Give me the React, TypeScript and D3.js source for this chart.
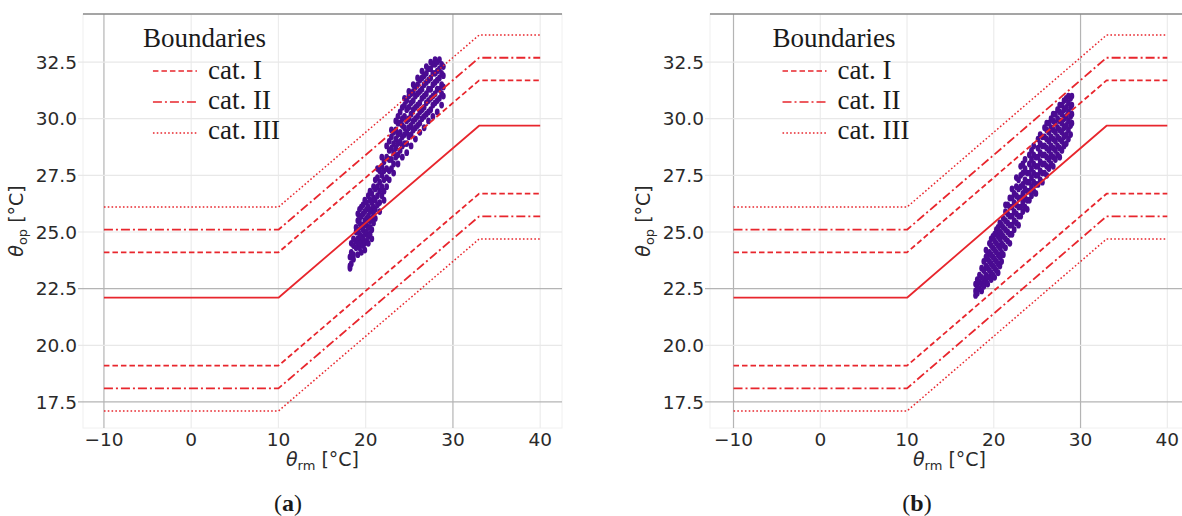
import React from "react";
import * as d3 from "d3";

// ---------- data ----------
const xTicks = [-10, 0, 10, 20, 30, 40];
const yTicks = [17.5, 20.0, 22.5, 25.0, 27.5, 30.0, 32.5];
const darkX = [-10, 30];
const darkY = [17.5, 22.5];

// boundary breakpoints (running mean temperature)
const rmBreaks = [-10, 10, 33, 40];
const comfortLine = [22.1, 22.1, 29.69, 29.69];
const catIUpper = [24.1, 24.1, 31.69, 31.69];
const catILower = [19.1, 19.1, 26.69, 26.69];
const catIIUpper = [25.1, 25.1, 32.69, 32.69];
const catIILower = [18.1, 18.1, 25.69, 25.69];
const catIIIUpper = [26.1, 26.1, 33.69, 33.69];
const catIIILower = [17.1, 17.1, 24.69, 24.69];

const legendLabels = ["cat. I", "cat. II", "cat. III"];

// measured operative temperatures per day: [running mean, readings]
const daysA: [number, number[]][] = [
  [18.2, [23.4, 23.5, 23.9]],
  [18.35, [23.6, 23.9, 24.1, 24.5]],
  [18.6, [23.8, 24.0, 24.4, 24.7]],
  [18.9, [24.3, 24.6, 25.0, 25.2]],
  [19.1, [24.0, 24.4, 24.7, 25.1, 25.5, 25.8]],
  [19.3, [24.3, 24.5, 24.9, 25.4, 25.6, 26.0]],
  [19.5, [24.1, 24.6, 24.8, 25.2, 25.7, 26.1]],
  [19.7, [24.4, 24.7, 25.1, 25.3, 25.8, 26.2]],
  [19.9, [24.2, 24.5, 24.9, 25.5, 25.9, 26.4]],
  [20.1, [24.6, 25.0, 25.3, 25.6, 26.0, 26.3]],
  [20.3, [24.5, 24.8, 25.2, 25.7, 26.1, 26.6]],
  [20.5, [24.9, 25.2, 25.5, 25.9, 26.4, 26.8]],
  [20.7, [24.7, 25.1, 25.6, 26.0, 26.3, 26.7]],
  [20.9, [25.4, 25.8, 26.1, 26.5, 27.0]],
  [21.1, [25.6, 26.0, 26.4, 26.9, 27.3]],
  [21.35, [26.2, 26.6, 27.0, 27.4, 27.8]],
  [21.6, [25.9, 26.3, 26.8, 27.2, 27.7]],
  [21.85, [26.6, 27.0, 27.5, 27.9, 28.3]],
  [22.1, [26.4, 26.8, 27.3, 27.7, 28.1]],
  [22.4, [27.0, 27.4, 27.8, 28.3, 28.8]],
  [22.7, [27.3, 27.7, 28.2, 28.6, 29.0]],
  [22.95, [27.8, 28.2, 28.7, 29.2, 29.5]],
  [23.2, [27.6, 28.0, 28.5, 28.9, 29.4]],
  [23.45, [28.3, 28.7, 29.1, 29.5, 29.9]],
  [23.7, [28.0, 28.4, 28.9, 29.3, 29.8, 30.1]],
  [23.95, [28.6, 29.0, 29.4, 29.8, 30.3]],
  [24.2, [28.3, 28.8, 29.2, 29.7, 30.0, 30.5]],
  [24.45, [28.9, 29.3, 29.6, 30.1, 30.6, 30.9]],
  [24.7, [28.5, 28.9, 29.4, 29.9, 30.4, 30.8]],
  [24.95, [29.2, 29.6, 30.0, 30.5, 31.0, 31.2]],
  [25.2, [28.8, 29.3, 29.7, 30.2, 30.7, 31.1]],
  [25.45, [29.5, 29.9, 30.4, 30.8, 31.2, 31.5]],
  [25.7, [29.1, 29.6, 30.0, 30.5, 31.0, 31.4]],
  [25.95, [29.7, 30.1, 30.6, 31.1, 31.5, 31.8]],
  [26.2, [29.4, 29.8, 30.3, 30.7, 31.2, 31.7]],
  [26.45, [30.0, 30.4, 30.9, 31.3, 31.8, 32.1]],
  [26.7, [29.6, 30.1, 30.5, 31.0, 31.5, 31.9]],
  [26.95, [30.2, 30.7, 31.1, 31.6, 32.0, 32.3]],
  [27.2, [29.9, 30.3, 30.8, 31.3, 31.7, 32.2]],
  [27.45, [30.4, 30.9, 31.3, 31.8, 32.2, 32.5]],
  [27.7, [30.1, 30.6, 31.0, 31.5, 32.0, 32.4]],
  [27.95, [30.7, 31.1, 31.6, 32.0, 32.4, 32.6]],
  [28.2, [30.3, 30.8, 31.3, 31.7, 32.1, 32.5]],
  [28.45, [30.9, 31.3, 31.8, 32.2, 32.6]],
  [28.7, [30.6, 31.1, 31.5, 32.0, 32.4]],
  [28.9, [31.0, 31.4, 31.9, 32.3]],
];

const daysB: [number, number[]][] = [
  [17.9, [22.2, 22.4, 22.7]],
  [18.1, [22.3, 22.6, 22.9]],
  [18.35, [22.5, 22.8, 23.1]],
  [18.6, [22.4, 22.7, 23.0, 23.4]],
  [18.85, [22.6, 22.9, 23.3, 23.7]],
  [19.1, [22.8, 23.1, 23.5, 23.9, 24.2]],
  [19.3, [22.7, 23.0, 23.4, 23.8, 24.0]],
  [19.5, [23.0, 23.3, 23.7, 24.1, 24.5]],
  [19.7, [22.9, 23.2, 23.6, 24.0, 24.4, 24.7]],
  [19.9, [23.1, 23.5, 23.9, 24.3, 24.8]],
  [20.1, [23.0, 23.4, 23.8, 24.2, 24.6, 24.9]],
  [20.3, [23.3, 23.7, 24.1, 24.5, 24.9, 25.1]],
  [20.5, [23.2, 23.6, 24.0, 24.4, 24.8, 25.2]],
  [20.7, [23.5, 23.9, 24.3, 24.7, 25.0, 25.4]],
  [20.9, [23.7, 24.1, 24.5, 24.9, 25.3]],
  [21.1, [24.0, 24.4, 24.8, 25.2, 25.6]],
  [21.35, [24.3, 24.7, 25.1, 25.5, 25.9, 26.2]],
  [21.6, [24.6, 25.0, 25.4, 25.8, 26.2]],
  [21.85, [24.5, 24.9, 25.3, 25.7, 26.1, 26.5]],
  [22.1, [24.9, 25.3, 25.7, 26.1, 26.5, 26.9]],
  [22.35, [25.1, 25.5, 25.9, 26.3, 26.7]],
  [22.6, [25.4, 25.8, 26.2, 26.6, 27.0, 27.4]],
  [22.85, [25.3, 25.7, 26.1, 26.5, 26.9, 27.3]],
  [23.1, [25.7, 26.1, 26.5, 27.0, 27.5, 27.9]],
  [23.35, [25.9, 26.3, 26.7, 27.1, 27.6, 28.0]],
  [23.6, [26.1, 26.5, 26.9, 27.3, 27.8, 28.2]],
  [23.85, [26.0, 26.4, 26.8, 27.2, 27.6]],
  [24.1, [26.4, 26.8, 27.2, 27.6, 28.0, 28.4]],
  [24.35, [26.6, 27.0, 27.4, 27.8, 28.2, 28.6]],
  [24.6, [26.8, 27.2, 27.6, 28.0, 28.4, 28.8]],
  [24.85, [26.7, 27.1, 27.5, 27.9, 28.3]],
  [25.1, [27.1, 27.5, 27.9, 28.3, 28.7, 29.1]],
  [25.35, [27.3, 27.7, 28.1, 28.5, 28.9, 29.3]],
  [25.6, [27.2, 27.6, 28.0, 28.4, 28.8, 29.2]],
  [25.85, [27.6, 28.0, 28.4, 28.8, 29.2, 29.6]],
  [26.1, [27.5, 27.9, 28.3, 28.7, 29.1, 29.5, 29.8]],
  [26.35, [27.8, 28.2, 28.6, 29.0, 29.4, 29.8]],
  [26.6, [28.0, 28.4, 28.8, 29.2, 29.6, 30.0]],
  [26.85, [27.9, 28.3, 28.7, 29.1, 29.5, 29.9, 30.2]],
  [27.1, [28.2, 28.6, 29.0, 29.4, 29.8, 30.2]],
  [27.35, [28.4, 28.8, 29.2, 29.6, 30.0, 30.4]],
  [27.6, [28.3, 28.7, 29.1, 29.5, 29.9, 30.3, 30.6]],
  [27.85, [28.6, 29.0, 29.4, 29.8, 30.2, 30.6]],
  [28.1, [28.8, 29.2, 29.6, 30.0, 30.4, 30.8]],
  [28.35, [28.9, 29.3, 29.7, 30.1, 30.5, 30.9]],
  [28.6, [29.1, 29.5, 29.9, 30.3, 30.7, 31.0]],
  [28.85, [29.3, 29.7, 30.1, 30.5, 30.9]],
  [29.0, [29.8, 30.2, 30.6, 31.0]],
];

// ---------- styles ----------
const RED = "#e8262d";
const DOT = "#4a0b92";
const DASH_I = "5.5,3";
const DASH_II = "9,3,2,3";
const DASH_III = "1.6,2.2";

const boundaries = [
  { vals: comfortLine, dash: null as string | null },
  { vals: catIUpper, dash: DASH_I },
  { vals: catILower, dash: DASH_I },
  { vals: catIIUpper, dash: DASH_II },
  { vals: catIILower, dash: DASH_II },
  { vals: catIIIUpper, dash: DASH_III },
  { vals: catIIILower, dash: DASH_III },
];
const legendDashes = [DASH_I, DASH_II, DASH_III];

const W = 1182;
const H = 516;
const TOP = 14;
const BOTTOM = 428;

const panels = [
  { key: "a", x0: 83, x1: 562, dom: [-12.4, 42.5], days: daysA, label: "(a)", labelX: 288 },
  { key: "b", x0: 710, x1: 1189, dom: [-12.71, 42.5], days: daysB, label: "(b)", labelX: 917 },
];

const y = d3.scaleLinear().domain([16.35, 34.62]).range([BOTTOM, TOP]);

const SANS = "'DejaVu Sans', sans-serif";
const SERIF = "'Liberation Serif', 'Times New Roman', serif";

function Panel({ p }: { p: (typeof panels)[number] }) {
  const x = d3.scaleLinear().domain(p.dom).range([p.x0, p.x1]);
  const line = d3
    .line<number>()
    .x((_, i) => x(rmBreaks[i]))
    .y((v) => y(v));
  const clipId = `clip-${p.key}`;
  const legX = x(-10);
  const midX = (p.x0 + p.x1) / 2;
  return (
    <g>
      <defs>
        <clipPath id={clipId}>
          <rect x={p.x0} y={TOP} width={p.x1 - p.x0} height={BOTTOM - TOP} />
        </clipPath>
      </defs>
      <rect x={p.x0} y={TOP} width={p.x1 - p.x0} height={BOTTOM - TOP} fill="#fff" stroke="#f0f0f0" strokeWidth={1} />
      {/* grid */}
      {xTicks.map((t) => (
        <line
          key={"gx" + t}
          x1={x(t)}
          x2={x(t)}
          y1={TOP}
          y2={BOTTOM}
          stroke={darkX.includes(t) ? "#b4b4b4" : "#ececec"}
          strokeWidth={1.2}
        />
      ))}
      {yTicks.map((t) => (
        <line
          key={"gy" + t}
          x1={p.x0 - 5}
          x2={p.x1}
          y1={y(t)}
          y2={y(t)}
          stroke={darkY.includes(t) ? "#b4b4b4" : "#e8e8e8"}
          strokeWidth={1.2}
        />
      ))}
      <line x1={p.x0} x2={p.x1} y1={TOP} y2={TOP} stroke="#8a8a8a" strokeWidth={1.6} />
      {/* scatter */}
      <g clipPath={`url(#${clipId})`}>
        {p.days.map(([rm, ops], i) =>
          ops.map((op, j) => (
            <ellipse key={`d${i}-${j}`} cx={x(rm)} cy={y(op)} rx={2.4} ry={3.4} fill={DOT} />
          ))
        )}
        {boundaries.map((b, i) => (
          <path
            key={"b" + i}
            d={line(b.vals) || ""}
            fill="none"
            stroke={RED}
            strokeWidth={b.dash === DASH_III ? 1.5 : 1.8}
            strokeDasharray={b.dash || undefined}
            strokeLinejoin="round"
          />
        ))}
      </g>
      {/* tick labels */}
      {xTicks.map((t) => (
        <text
          key={"tx" + t}
          x={x(t)}
          y={446}
          textAnchor="middle"
          fontFamily={SANS}
          fontSize={18.5}
          fill="#2a2a2a"
        >
          {t < 0 ? "\u2212" + Math.abs(t) : t}
        </text>
      ))}
      {yTicks.map((t) => (
        <text
          key={"ty" + t}
          x={p.x0 - 6}
          y={y(t)}
          dy="0.36em"
          textAnchor="end"
          fontFamily={SANS}
          fontSize={18.5}
          fill="#2a2a2a"
        >
          {t.toFixed(1)}
        </text>
      ))}
      {/* axis labels */}
      <text x={midX} y={466} textAnchor="middle" fontFamily={SANS} fontSize={19} fill="#2a2a2a">
        <tspan fontStyle="italic">θ</tspan>
        <tspan fontSize={13} dy={4}>rm</tspan>
        <tspan dy={-4}> [°C]</tspan>
      </text>
      <text
        transform={`translate(${p.x0 - 60},${(TOP + BOTTOM) / 2}) rotate(-90)`}
        textAnchor="middle"
        fontFamily={SANS}
        fontSize={19}
        fill="#2a2a2a"
      >
        <tspan fontStyle="italic">θ</tspan>
        <tspan fontSize={13} dy={4}>op</tspan>
        <tspan dy={-4}> [°C]</tspan>
      </text>
      {/* legend */}
      <text x={legX + 39} y={47} fontFamily={SERIF} fontSize={27} fill="#1a1a1a">
        Boundaries
      </text>
      {legendLabels.map((lab, i) => (
        <g key={"lg" + i}>
          <line
            x1={legX + 49}
            x2={legX + 93}
            y1={71 + i * 31}
            y2={71 + i * 31}
            stroke={RED}
            strokeWidth={1.5}
            strokeDasharray={legendDashes[i]}
          />
          <text x={legX + 104} y={79 + i * 30} fontFamily={SERIF} fontSize={27} fill="#1a1a1a">
            {lab}
          </text>
        </g>
      ))}
      {/* panel label */}
      <text x={p.labelX} y={511} textAnchor="middle" fontFamily={SERIF} fontSize={24} fill="#1a1a1a">
        (<tspan fontWeight="bold">{p.key}</tspan>)
      </text>
    </g>
  );
}

export default function App() {
  return (
    <div style={{ position: "absolute", left: 0, top: 0 }}>
      <svg width={W} height={H} viewBox={`0 0 ${W} ${H}`} style={{ display: "block", background: "#fff" }}>
        {panels.map((p) => (
          <Panel key={p.key} p={p} />
        ))}
      </svg>
    </div>
  );
}
